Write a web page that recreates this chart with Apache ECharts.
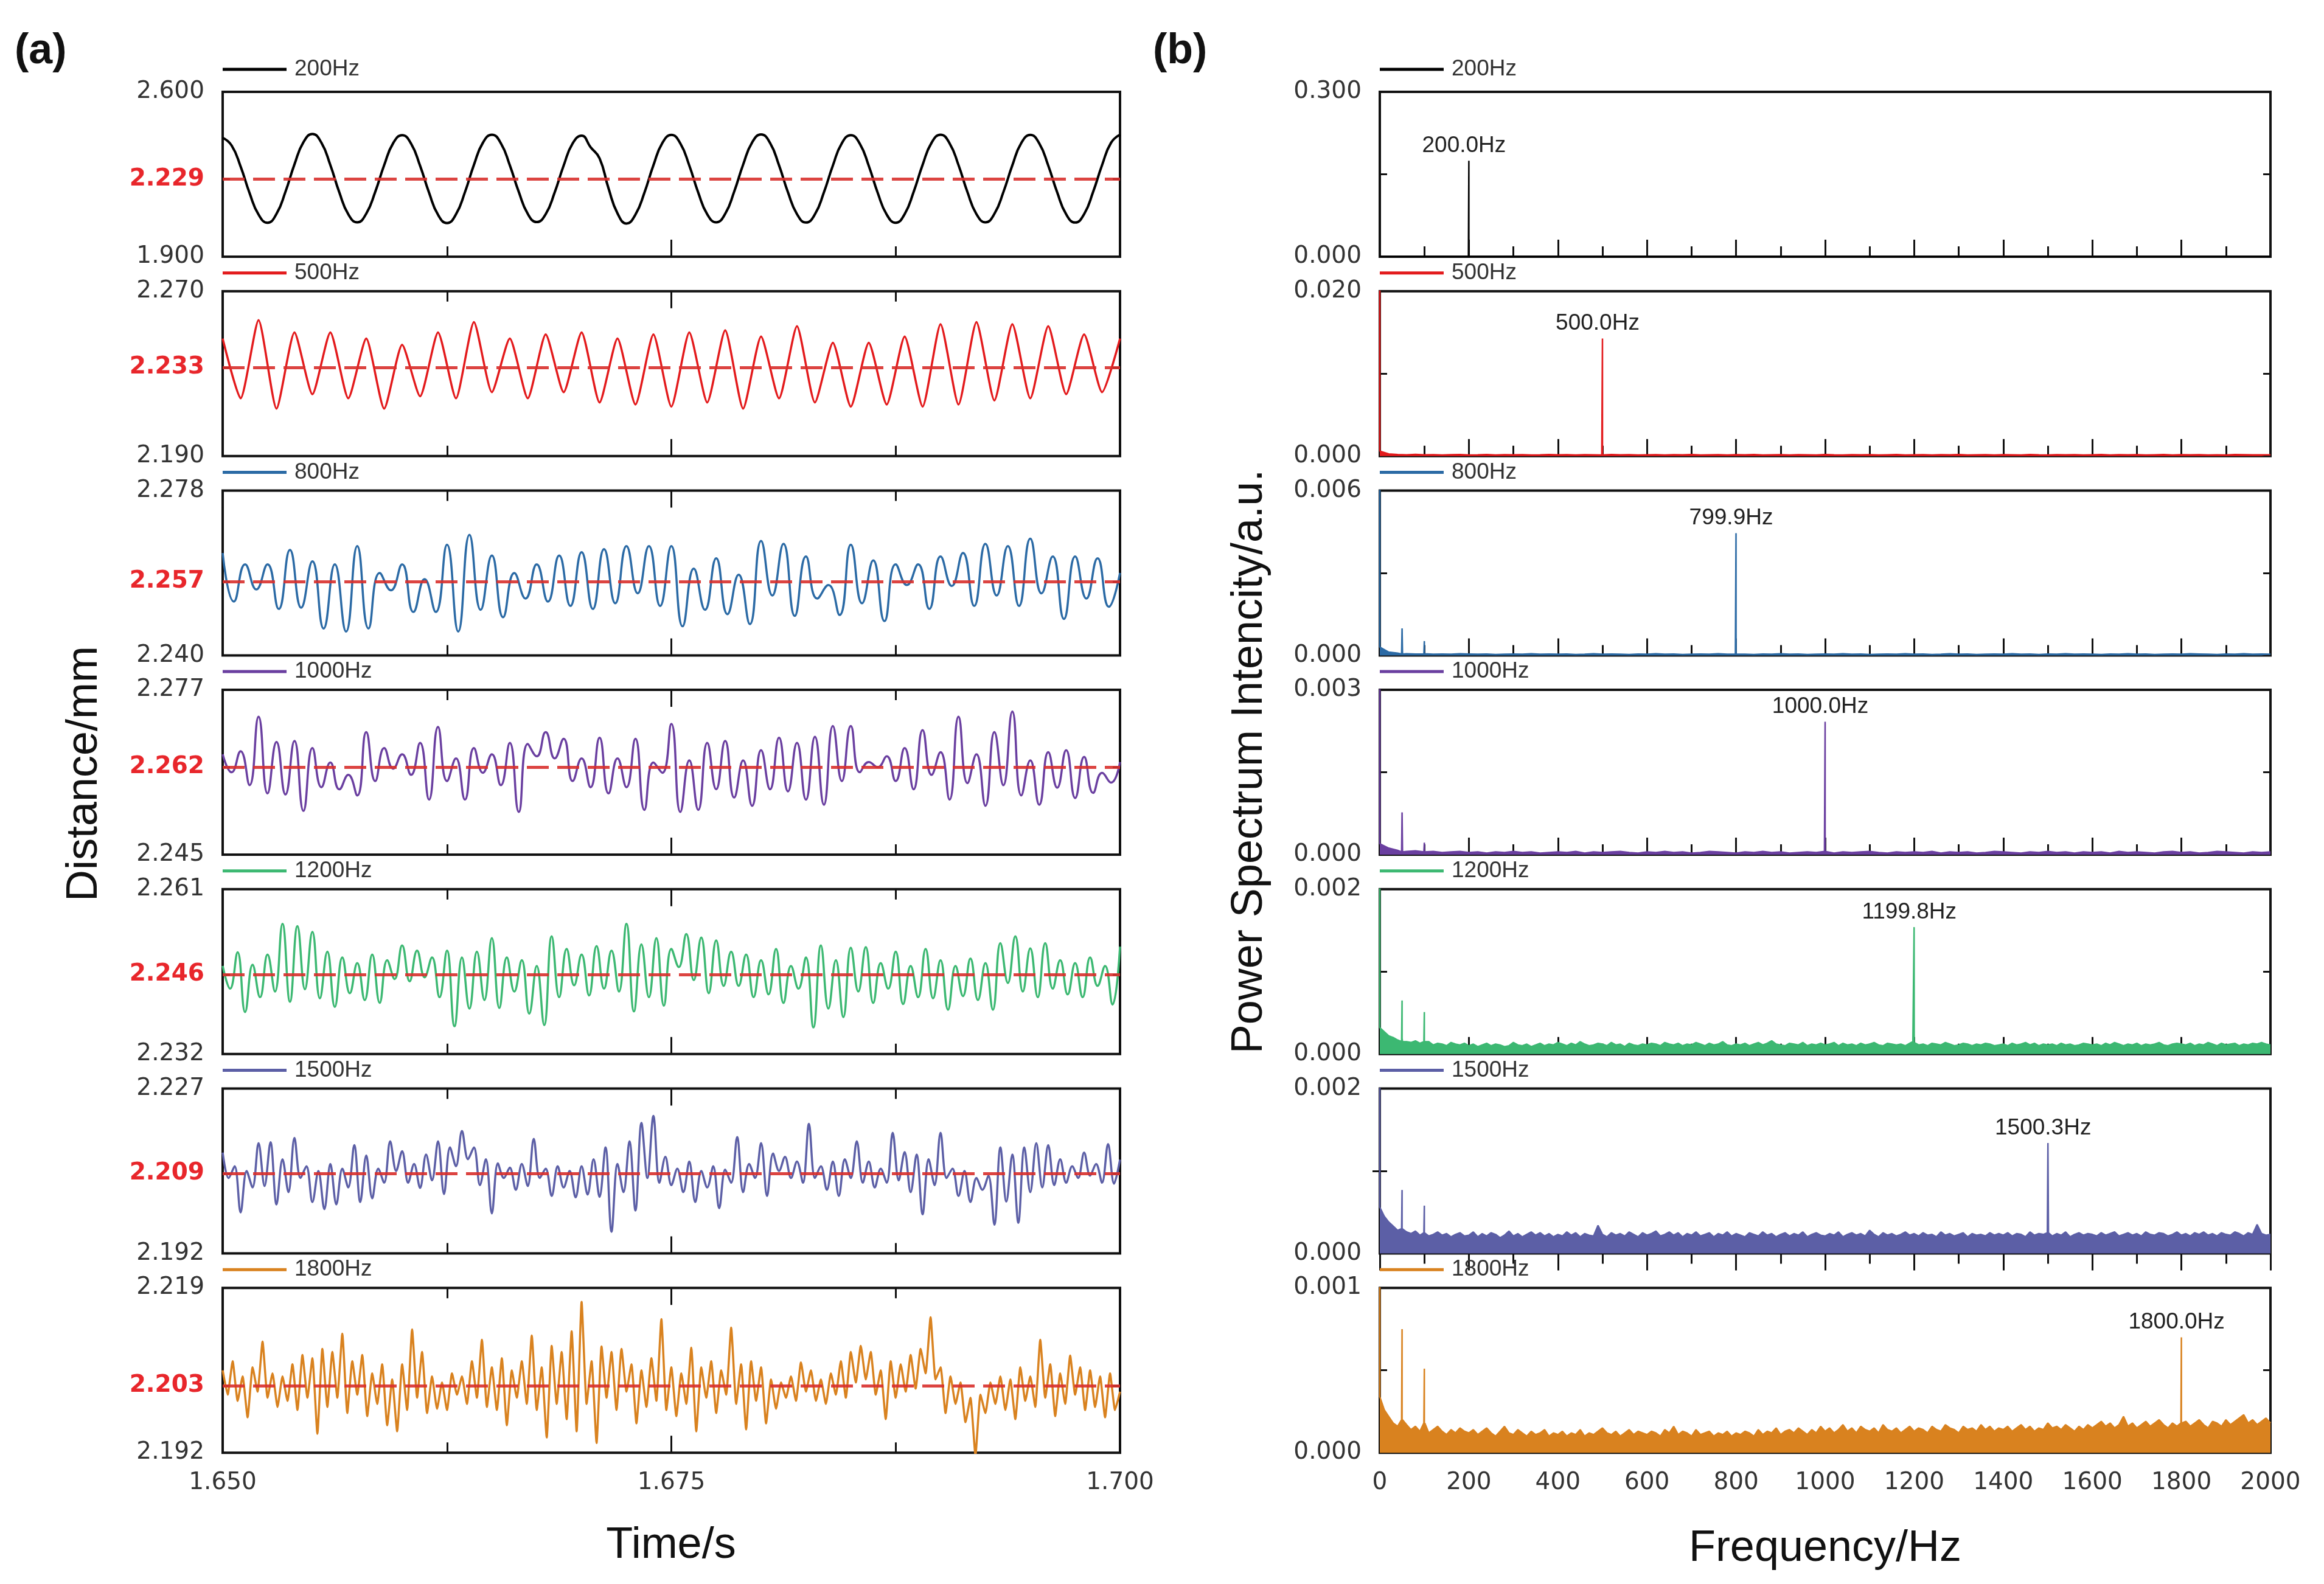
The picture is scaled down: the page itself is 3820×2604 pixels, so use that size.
<!DOCTYPE html>
<html>
<head>
<meta charset="utf-8">
<title>Distance / power spectrum</title>
<style>
  html, body { margin: 0; padding: 0; background: #fff; }
  #main { width: 3820px; height: 2604px; }
</style>
</head>
<body>
<div id="main"></div>
<script src="https://cdn.jsdelivr.net/npm/echarts@6/dist/echarts.min.js"></script>
<script>
// ---- sub plots, top to bottom ----
var names  = ['200Hz', '500Hz', '800Hz', '1000Hz', '1200Hz', '1500Hz', '1800Hz'];
var colors = ['#000000', '#e31a1c', '#2b6aa5', '#6a3fa0', '#3cb872', '#5c5fa6', '#d9821f'];

// (a) distance axes, mm
var distMin  = [1.900, 2.190, 2.240, 2.245, 2.232, 2.192, 2.192];
var distMax  = [2.600, 2.270, 2.278, 2.277, 2.261, 2.227, 2.219];
var distMean = [2.229, 2.233, 2.257, 2.262, 2.246, 2.209, 2.203];

// 200 Hz trace, mm, evenly spaced over 1.650 - 1.700 s
var trace200 = [
  2.405, 2.372, 2.283, 2.170, 2.079, 2.044, 2.082, 2.176, 2.292, 2.386,
  2.421, 2.384, 2.289, 2.173, 2.080, 2.046, 2.083, 2.175, 2.289, 2.382,
  2.416, 2.380, 2.286, 2.172, 2.078, 2.043, 2.080, 2.174, 2.290, 2.384,
  2.418, 2.382, 2.288, 2.175, 2.082, 2.047, 2.081, 2.173, 2.287, 2.381,
  2.414, 2.365, 2.318, 2.190, 2.084, 2.041, 2.079, 2.172, 2.288, 2.383,
  2.417, 2.381, 2.287, 2.172, 2.080, 2.046, 2.082, 2.176, 2.291, 2.385,
  2.419, 2.383, 2.288, 2.173, 2.081, 2.045, 2.080, 2.173, 2.287, 2.382,
  2.416, 2.380, 2.286, 2.171, 2.079, 2.044, 2.081, 2.175, 2.290, 2.384,
  2.418, 2.382, 2.289, 2.174, 2.081, 2.046, 2.082, 2.174, 2.288, 2.383,
  2.417, 2.381, 2.287, 2.173, 2.080, 2.045, 2.081, 2.175, 2.289, 2.384,
  2.418
];

// other traces: successive peaks / troughs, um from the mean, evenly spaced over 1.650 - 1.700 s
var dev500 = [
  14, -15, 23, -20, 17, -13, 17, -15, 14, -20, 11, -14, 17, -15, 22, -12, 14, -15, 16, -12,
  17, -17, 14, -18, 16, -19, 17, -17, 18, -20, 15, -15, 20, -17, 12, -19, 12, -18, 15, -19,
  21, -18, 22, -16, 21, -15, 20, -13, 16, -12, 14
];
var dev800 = [
  6.6, -4.6, 4, -1.8, 4, -6.3, 7.3, -6, 4.7, -10.8, 4, -11.5, 8.2, -10.8, 2, -2, 4, -7, 0.6, -7,
  8.5, -11.5, 10.8, -6.5, 6, -8.2, 2, -3.9, 4, -4.6, 6, -5.6, 6.8, -6.3, 7.5, -5, 8.2, -2.7, 8.2, -5.6,
  8.2, -10.3, 3, -6.5, 5.4, -7.5, 1.6, -9.8, 9.4, -3.2, 8.7, -7.9, 5.8, -3.9, -0.8, -7.7, 8.5, -5, 4.9, -9.1,
  4, -0.8, 4, -6.3, 5.8, -1, 6.6, -5.6, 8.7, -3.2, 8.2, -5.6, 9.9, -2.7, 5.8, -8.6, 5.8, -3.9, 5.4, -5.8,
  2
];
var dev1000 = [
  2.5, -1, 3.1, -3.5, 9.8, -5.1, 4.9, -5.3, 5.1, -8.5, 3.7, -3.9, 0.9, -4.3, -1.5, -5.5, 6.8, -2.7, 3.7, -0.3,
  2.5, -1.5, 4.7, -6.3, 7.8, -2.7, 1.7, -6.3, 3.7, -1.1, 2.5, -3.5, 4.7, -8.7, 4.5, 2.1, 6.8, 1.7, 5.5, -2.7,
  1.7, -3.9, 5.7, -5.1, 1.7, -3.9, 5.5, -8.3, 0.9, -1.1, 8.4, -8.7, 1.3, -8.3, 4.7, -4.3, 5.1, -5.9, 1.3, -7.5,
  3.3, -4.3, 5.7, -4.7, 4.7, -6.3, 5.9, -7.3, 8.0, -2.7, 8.0, -1.0, 1.0, 0, 2.1, -2.7, 3.7, -4.3, 7.2, -1.5,
  2.9, -6.3, 9.8, -3.1, 2.5, -7.5, 6.8, -3.5, 10.8, -5.5, 1.3, -7.3, 2.9, -4.0, 3.3, -6.0, 2.0, -5.0, -1.1, -3.0,
  1.0
];
var dev1200 = [
  1.5, -2.5, 3.9, -6.6, 1.7, -4.0, 3.5, -3.0, 8.9, -4.8, 8.5, -2.6, 7.5, -4.2, 4.0, -5.7, 3.0, -3.3, 2.0, -4.5,
  3.5, -5.0, 2.5, -0.8, 5.1, -1.2, 4.2, -0.5, 3.0, -4.0, 4.2, -9.1, 3.0, -6.0, 4.0, -4.5, 6.4, -5.9, 3.0, -3.0,
  2.5, -6.9, 1.5, -8.9, 6.7, -4.0, 4.5, -1.9, 3.5, -3.7, 5.0, -2.5, 4.2, -3.0, 8.9, -6.5, 5.3, -4.0, 6.4, -5.5,
  4.5, 1.3, 7.1, -1.0, 6.5, -3.3, 6.0, -2.0, 4.0, -2.0, 3.5, -4.0, 2.5, -3.5, 4.5, -5.0, 1.5, -2.5, 3.0, -9.3,
  5.1, -6.0, 2.5, -7.5, 4.7, -3.0, 4.8, -5.0, 2.0, -2.5, 4.0, -5.2, 1.5, -4.0, 4.5, -4.2, 2.5, -6.2, 1.5, -3.8,
  2.8, -4.5, 2.0, -6.2, 5.5, -1.5, 6.7, -3.0, 4.6, -4.0, 5.5, -2.5, 2.5, -3.5, 2.0, -4.0, 3.0, -2.0, 1.5, -5.3,
  4.9
];
var dev1500 = [
  4.4, -1.0, 1.5, -8.3, 0.5, -3.0, 6.4, -2.7, 6.6, -6.6, 3.0, -4.0, 7.5, -1.0, 1.5, -6.1, 0.5, -7.6, 2.0, -6.6,
  1.0, -3.0, 6.0, -6.1, 3.8, -5.3, 1.0, -2.0, 6.8, 0.5, 4.7, -2.0, 2.0, -3.1, 4.0, -1.5, 6.8, -4.4, 5.5, 1.5,
  9.0, 3.0, 5.5, -2.5, 3.0, -8.5, 2.1, -1.0, 1.2, -3.5, 2.0, -2.7, 7.3, -1.0, 1.0, -4.8, 1.5, -3.0, 0.5, -5.1,
  1.5, -4.5, 3.0, -5.0, 5.5, -12.4, 2.0, -4.0, 6.8, -7.9, 10.7, -1.0, 12.2, -2.0, 3.5, -2.5, 1.0, -4.0, 2.5, -6.1,
  0.5, -3.0, 1.5, -7.4, 0.8, -2.0, 7.7, -4.0, 2.0, -1.0, 6.4, -4.8, 4.2, 0.5, 3.5, -1.0, 2.5, -2.0, 10.5, -1.0,
  1.5, -3.5, 2.5, -4.8, 3.0, -1.0, 6.8, -2.0, 2.5, -3.0, 1.0, -2.0, 8.6, -1.5, 4.5, -4.0, 4.0, -8.7, 3.0, -2.5,
  8.6, -1.0, 1.0, -4.8, 0.5, -6.1, -1.0, -3.5, -0.5, -10.9, 5.5, -6.0, 4.0, -10.5, 5.5, -4.0, 6.4, -3.0, 6.0, -2.5,
  3.0, -2.0, 1.5, -1.0, 4.4, -0.5, 2.0, -2.0, 6.2, -2.2, 2.9
];
var dev1800 = [
  2.5, -1.5, 4.0, -2.5, 1.5, -5.2, 3.0, -1.0, 7.2, -2.0, 2.0, -3.5, 1.5, -2.5,
  3.5, -4.0, 5.0, -2.0, 4.5, -7.9, 6.0, -3.5, 5.5, -2.0, 8.5, -4.5, 4.0, -1.5, 5.0,
  -5.0, 2.0, -3.0, 3.5, -6.5, 1.0, -7.5, 3.5, -4.0, 9.2, -2.0, 5.5, -4.5, 1.5, -3.8, 0.5,
  -4.0, 2.0, -1.5, 1.5, -3.0, 4.0, -2.0, 7.5, -3.5, 3.0, -4.0, 4.5, -6.5, 2.5, -2.0,
  4.0, -3.0, 8.2, -4.0, 3.0, -8.5, 6.5, -3.0, 5.5, -5.5, 8.9, -7.5, 13.7, -3.0, 4.0, -9.4,
  6.4, -2.0, 5.5, -4.0, 6.0, -1.0, 3.5, -6.2, 2.5, -3.5, 4.5, -2.5, 10.9, -4.0, 3.0, -5.0,
  2.0, -3.0, 6.2, -7.5, 3.0, -2.0, 4.0, -4.5, 2.5, -1.5, 9.5, -3.0, 3.5, -7.2, 4.0, -2.5, 3.0,
  -6.2, 1.0, -3.8, 0.5, -2.0, 1.5, -2.5, 3.8, -1.0, 2.5, -2.5, 1.0, -3.0, 2.0, -1.5, 4.0, -2.0,
  5.5, 0.5, 6.5, 1.0, 5.5, -1.5, 2.5, -5.5, 4.0, -2.0, 3.5, -1.0, 5.0, -0.5,
  6.0, 2.0, 11.2, 1.0, 3.0, -4.5, 1.5,
  -3.0, 0.5, -6.0, -2.0, -11.4, -1.5, -4.5, 0.5, -3.0, 1.5,
  -4.0, 1.0, -5.5, 3.0, -2.5, 1.5, -3.5, 7.5, -2.0, 3.5, -5.0, 2.0,
  -3.0, 4.9, -1.5, 3.0, -4.0, 2.5, -3.5, 1.5, -5.2, 2.0, -4.0, -1.0
];

// (b) spectra, values in units of 1e-5 a.u.
var SPEC_UNIT = 1e-5;
var specMax = [0.300, 0.020, 0.006, 0.003, 0.002, 0.002, 0.001];
var noiseStep = [100, 20, 20, 20, 10, 10, 10]; // Hz between noise samples, first at 0 Hz
var noise200 = [0, 60, 0, 20, 0, 0, 0, 0, 0, 0, 0, 0, 0, 0, 0, 0, 0, 0, 0, 0, 0];
var noise500 = [
  60, 25, 18, 15, 20, 14, 17, 12, 16, 19, 13, 15, 18, 12, 16, 14, 17, 13, 15, 18,
  14, 16, 12, 17, 15, 13, 18, 14, 16, 12, 15, 17, 13, 16, 14, 18, 12, 15, 17, 13,
  16, 14, 18, 12, 15, 17, 13, 16, 14, 12, 18, 15, 13, 17, 14, 16, 12, 15, 18, 13,
  15, 17, 13, 16, 14, 18, 12, 15, 17, 13, 16, 14, 12, 18, 15, 13, 17, 14, 16, 12,
  15, 18, 13, 16, 14, 17, 12, 15, 18, 13, 16, 14, 17, 12, 15, 13, 18, 16, 14, 15,
  14
];
var noise800 = [
  30, 12, 8, 6, 5, 6, 4, 5, 4, 6, 5, 4, 5, 3, 4, 5, 4, 6, 4, 5,
  4, 5, 3, 4, 6, 4, 5, 4, 3, 5, 4, 6, 4, 5, 3, 4, 5, 4, 6, 4,
  5, 4, 3, 5, 4, 6, 4, 5, 3, 4, 5, 4, 6, 4, 5, 3, 4, 5, 4, 6,
  4, 5, 3, 4, 6, 4, 5, 3, 4, 5, 4, 6, 4, 5, 3, 5, 4, 6, 4, 5,
  4, 3, 5, 4, 6, 4, 5, 3, 4, 5, 4, 6, 5, 4, 3, 5, 4, 6, 4, 5,
  4
];
var noise1000 = [
  20, 12, 8, 6, 7, 5, 6, 4, 5, 6, 4, 5, 3, 5, 4, 6, 4, 5, 3, 4,
  5, 4, 6, 3, 5, 4, 5, 6, 4, 3, 5, 4, 6, 4, 5, 3, 4, 6, 5, 4,
  3, 5, 4, 6, 4, 5, 3, 4, 5, 4, 6, 3, 5, 4, 5, 6, 4, 3, 5, 4,
  5, 4, 6, 3, 5, 4, 5, 3, 4, 6, 5, 4, 3, 5, 4, 6, 4, 5, 3, 5,
  4, 5, 3, 6, 4, 5, 4, 3, 5, 6, 4, 5, 3, 4, 6, 5, 4, 3, 5, 4,
  5
];
var noise1200 = [
  32, 27, 22, 20, 17, 19, 15, 14, 16, 13, 12, 15, 11, 13, 12, 10, 14, 12, 11, 13,
  10, 12, 9, 11, 13, 10, 12, 11, 9, 10, 14, 11, 10, 12, 9, 11, 13, 10, 12, 11,
  14, 12, 10, 13, 11, 15, 12, 10, 11, 13, 12, 10, 14, 11, 12, 9, 13, 11, 10, 12,
  11, 13, 12, 10, 14, 12, 11, 13, 10, 12, 11, 14, 12, 10, 13, 11, 12, 15, 11, 10,
  12, 11, 13, 10, 12, 14, 11, 13, 16, 12, 11, 10, 13, 12, 11, 14, 10, 12, 11, 13,
  11, 12, 14, 10, 13, 11, 12, 10, 13, 11, 12, 14, 11, 10, 13, 12, 11, 12, 10, 13,
  14, 11, 12, 10, 13, 12, 11, 14, 12, 10, 11, 13, 12, 10, 12, 11, 13, 12, 10, 11,
  12, 10, 13, 11, 12, 14, 11, 13, 10, 12, 11, 12, 10, 13, 11, 12, 10, 11, 13, 12,
  11, 12, 10, 13, 11, 14, 12, 10, 12, 11, 13, 10, 12, 11, 12, 14, 11, 10, 12, 13,
  12, 11, 13, 10, 12, 11, 14, 12, 10, 13, 11, 12, 13, 10, 12, 11, 13, 12, 14, 12,
  11
];
var noise1500 = [
  56, 45, 38, 33, 28, 30, 26, 24, 27, 22, 25, 21, 23, 26, 22, 24, 20, 23, 25, 21,
  22, 26, 20, 24, 21, 25, 23, 19, 22, 27, 21, 24, 20, 23, 26, 22, 25, 21, 24, 20,
  23, 21, 26, 22, 25, 20, 24, 22, 21, 34, 23, 20, 25, 22, 24, 21, 26, 23, 20, 25,
  22, 24, 27, 21, 23, 26, 22, 25, 20, 24, 22, 26, 21, 23, 25, 20, 24, 22, 26, 21,
  24, 22, 20, 25, 23, 21, 26, 22, 24, 20, 23, 25, 21, 24, 22, 26, 20, 23, 25, 22,
  21, 24, 22, 26, 20, 23, 25, 22, 24, 21, 28, 23, 20, 25, 22, 24, 21, 23, 26, 22,
  24, 21, 25, 22, 23, 20, 26, 22, 24, 21, 23, 25, 20, 24, 22, 23, 21, 25, 22, 24,
  22, 25, 21, 24, 23, 20, 26, 22, 24, 23, 25, 21, 24, 22, 26, 20, 23, 25, 22, 24,
  23, 21, 25, 22, 24, 26, 21, 23, 25, 22, 24, 21, 26, 23, 22, 25, 24, 21, 23, 26,
  22, 24, 21, 25, 23, 26, 22, 24, 21, 25, 23, 22, 26, 24, 21, 25, 23, 35, 24, 22,
  23
];
var noise1800 = [
  34, 26, 22, 18, 16, 15, 17, 14, 16, 13, 15, 12, 14, 16, 13, 11, 14, 12, 15, 13,
  12, 14, 11, 13, 15, 12, 10, 13, 16, 12, 11, 14, 12, 10, 13, 11, 12, 14, 10, 12,
  11, 13, 10, 12, 11, 14, 10, 12, 11, 13, 15, 12, 11, 13, 10, 12, 14, 11, 13, 12,
  11, 13, 12, 10, 14, 12, 16, 11, 13, 12, 10, 14, 11, 12, 13, 10, 12, 11, 13, 10,
  12, 11, 13, 12, 10, 14, 11, 13, 12, 15, 11, 13, 14, 12, 15, 13, 11, 14, 12, 16,
  13, 15, 12, 14, 17, 13, 15, 12, 16, 14, 13, 15, 12, 17, 14, 13, 15, 12, 14, 16,
  13, 15, 14, 12, 16, 14, 13, 17, 15, 14, 12, 16, 14, 15, 13, 17, 14, 16, 13, 15,
  14, 16, 13, 15, 17, 14, 16, 13, 15, 14, 18, 15, 16, 14, 17, 15, 13, 16, 14, 17,
  15, 17, 19, 16, 18, 15, 17, 22, 16, 18, 15, 17, 19, 16, 18, 20, 17, 15, 18, 16,
  17, 19, 16, 18, 20, 17, 15, 19, 18, 16, 20, 17, 19, 21, 23, 18, 20, 17, 19, 21,
  18
];
// discrete lines [Hz, 1e-5 a.u.]: DC, 50 Hz, 100 Hz and the excitation peak
var spikes200  = [[199, 0], [200, 17460], [201, 0]];
var spikes500  = [[0, 2500], [498.5, 12], [500, 1426], [501.5, 12]];
var spikes800  = [[0, 800], [49, 5], [50, 98], [51, 5], [99, 5], [100, 52], [101, 5], [798.5, 5], [799.9, 445], [801.3, 5]];
var spikes1000 = [[0, 400], [49, 5], [50, 77], [51, 5], [99, 5], [100, 22], [101, 5], [998.5, 6], [1000, 242], [1001.5, 6]];
var spikes1200 = [[0, 300], [49, 15], [50, 65], [51, 15], [99, 15], [100, 51], [101, 15], [1197, 15], [1199.8, 154], [1202, 15]];
var spikes1500 = [[0, 300], [49, 30], [50, 77], [51, 30], [99, 25], [100, 58], [101, 25], [1499, 25], [1500.3, 134], [1501.5, 25]];
var spikes1800 = [[0, 150], [49, 20], [50, 75], [51, 20], [99, 18], [100, 51], [101, 18], [1799, 18], [1800, 70], [1801, 18]];
var peakFreq  = [200, 500, 799.9, 1000, 1199.8, 1500.3, 1800];
var peakLabel = ['200.0Hz', '500.0Hz', '799.9Hz', '1000.0Hz', '1199.8Hz', '1500.3Hz', '1800.0Hz'];

// ---- layout ----
var LEFT_X = 366, LEFT_W = 1475, RIGHT_X = 2268, RIGHT_W = 1464;
var TOP0 = 151, STEP = 327.7, H = 271;
var TICK_FONT = 'DejaVu Sans', TEXT_FONT = 'Liberation Sans';
var INK = '#111';

var devs = [null, dev500, dev800, dev1000, dev1200, dev1500, dev1800];
var noises = [noise200, noise500, noise800, noise1000, noise1200, noise1500, noise1800];
var spikes = [spikes200, spikes500, spikes800, spikes1000, spikes1200, spikes1500, spikes1800];
var smoothness = [0.5, 0.2, 0.5, 0.5, 0.45, 0.35, 0.15];
var leftTopTicks  = [false, true, true, true, true, true, true];
var rightTopTicks = [false, false, false, false, false, true, false];

function timeSeries(k) {
  var vals = k === 0 ? trace200 : devs[k].map(function (d) { return distMean[k] + d / 1000; });
  var n = vals.length;
  return vals.map(function (v, i) { return [1.65 + 0.05 * i / (n - 1), v]; });
}

function spectrum(k) {
  var pts = spikes[k].slice();
  noises[k].forEach(function (v, i) { pts.push([i * noiseStep[k], v]); });
  pts.sort(function (a, b) { return a[0] - b[0]; });
  return pts.map(function (p) { return [p[0], p[1] * SPEC_UNIT]; });
}

var grids = [], xAxes = [], yAxes = [], series = [], legends = [];

function xAxisCfg(g, opt) {
  return {
    gridIndex: g, type: 'value', min: opt.min, max: opt.max, interval: opt.interval,
    position: opt.position,
    axisLine: { show: false },
    splitLine: { show: false },
    axisTick: { show: true, inside: true, length: 28, lineStyle: { color: INK, width: 3 } },
    minorTick: { show: true, splitNumber: 2, length: 17, lineStyle: { color: INK, width: 3 } },
    axisLabel: {
      show: opt.labels, margin: 30, fontSize: 39, fontFamily: TICK_FONT, color: '#333',
      formatter: opt.formatter
    }
  };
}

function addPanel(k, side) {
  var g = grids.length;
  var left = side === 'a' ? LEFT_X : RIGHT_X;
  var top = TOP0 + STEP * k;
  grids.push({ left: left, top: top, width: side === 'a' ? LEFT_W : RIGHT_W, height: H,
    show: true, borderColor: INK, borderWidth: 4, backgroundColor: 'transparent' });

  var xOpt = side === 'a'
    ? { min: 1.65, max: 1.70, interval: 0.025, formatter: function (v) { return v.toFixed(3); } }
    : { min: 0, max: 2000, interval: 200, formatter: function (v) { return String(Math.round(v)); } };
  var xi = xAxes.length;
  xAxes.push(xAxisCfg(g, Object.assign({ position: 'bottom', labels: k === 6 }, xOpt)));
  if ((side === 'a' ? leftTopTicks : rightTopTicks)[k]) {
    xAxes.push(xAxisCfg(g, Object.assign({ position: 'top', labels: false }, xOpt)));
  }

  var ymin = side === 'a' ? distMin[k] : 0;
  var ymax = side === 'a' ? distMax[k] : specMax[k];
  var ymid = side === 'a' ? distMean[k] : specMax[k] / 2;
  var labelVals = side === 'a' ? [ymin, ymid, ymax] : [ymin, ymax];
  var yi = yAxes.length;
  yAxes.push({
    gridIndex: g, type: 'value', min: ymin, max: ymax, position: 'left',
    axisLine: { show: false }, splitLine: { show: false },
    axisTick: { show: true, inside: true, length: 12, customValues: [ymid], lineStyle: { color: INK, width: 3 } },
    axisLabel: {
      customValues: labelVals, margin: 30,
      formatter: function (v) {
        var s = v.toFixed(3);
        return (side === 'a' && Math.abs(v - ymid) < 1e-9) ? '{m|' + s + '}' : '{n|' + s + '}';
      },
      rich: {
        n: { fontSize: 39, fontFamily: TICK_FONT, color: '#333' },
        m: { fontSize: 39, fontFamily: TICK_FONT, fontWeight: 'bold', color: '#e8262b' }
      }
    }
  });
  yAxes.push({
    gridIndex: g, type: 'value', min: ymin, max: ymax, position: 'right',
    axisLine: { show: false }, splitLine: { show: false }, axisLabel: { show: false },
    axisTick: { show: true, inside: true, length: 12, customValues: [ymid], lineStyle: { color: INK, width: 3 } }
  });

  var s = {
    type: 'line', name: names[k], xAxisIndex: xi, yAxisIndex: yi,
    showSymbol: false, symbol: 'none', animation: false,
    itemStyle: { color: colors[k] }
  };
  if (side === 'a') {
    s.data = timeSeries(k);
    s.smooth = smoothness[k];
    s.lineStyle = { color: colors[k], width: k === 0 ? 4 : 3.5 };
    s.markLine = {
      silent: true, symbol: 'none', animation: false, precision: 4,
      label: { show: false },
      lineStyle: { color: '#d8302c', type: [36, 14], width: 5, opacity: 0.9 },
      data: [{ yAxis: distMean[k] }]
    };
  } else {
    var data = spectrum(k);
    var peak = spikes[k].filter(function (p) { return p[0] === peakFreq[k]; })[0];
    s.data = data;
    s.lineStyle = { color: colors[k], width: 2.5 };
    s.areaStyle = { color: colors[k], opacity: 1 };
    s.markPoint = {
      silent: true, symbol: 'circle', symbolSize: 0, animation: false,
      label: {
        show: true, position: 'top', distance: 6, offset: [-8, 0],
        fontSize: 37, fontFamily: TEXT_FONT, color: '#222',
        formatter: peakLabel[k]
      },
      data: [{ coord: [peakFreq[k], peak[1] * SPEC_UNIT] }]
    };
  }
  series.push(s);

  var legendCenter = top - (k === 0 ? 37 : 30);
  legends.push({
    data: [names[k]], left: left, top: legendCenter - 20, padding: 0,
    icon: 'rect', itemWidth: 105, itemHeight: 5, selectedMode: false,
    textStyle: { fontSize: 37, lineHeight: 40, fontFamily: TEXT_FONT, color: '#333', padding: [0, 0, 0, 8] }
  });
}

for (var k = 0; k < names.length; k++) {
  addPanel(k, 'a');
  addPanel(k, 'b');
}

function label(text, x, y, size, opts) {
  opts = opts || {};
  return {
    type: 'text', x: x, y: y, rotation: opts.rotation || 0, silent: true,
    style: {
      text: text, fill: INK, fontSize: size, fontFamily: TEXT_FONT,
      fontWeight: opts.bold ? 'bold' : 'normal',
      align: opts.align || 'center', verticalAlign: 'middle',
      textAlign: opts.align || 'center', textVerticalAlign: 'middle'
    }
  };
}

var chart = echarts.init(document.getElementById('main'));
chart.setOption({
  backgroundColor: '#ffffff',
  animation: false,
  grid: grids,
  xAxis: xAxes,
  yAxis: yAxes,
  legend: legends,
  series: series,
  graphic: [
    label('(a)', 24, 85, 70, { bold: true, align: 'left' }),
    label('(b)', 1895, 85, 70, { bold: true, align: 'left' }),
    label('Distance/mm', 139, 1272, 72, { rotation: Math.PI / 2 }),
    label('Power Spectrum Intencity/a.u.', 2054, 1252, 72, { rotation: Math.PI / 2 }),
    label('Time/s', 1103, 2541, 72),
    label('Frequency/Hz', 3000, 2546, 72)
  ]
});
</script>
</body>
</html>
